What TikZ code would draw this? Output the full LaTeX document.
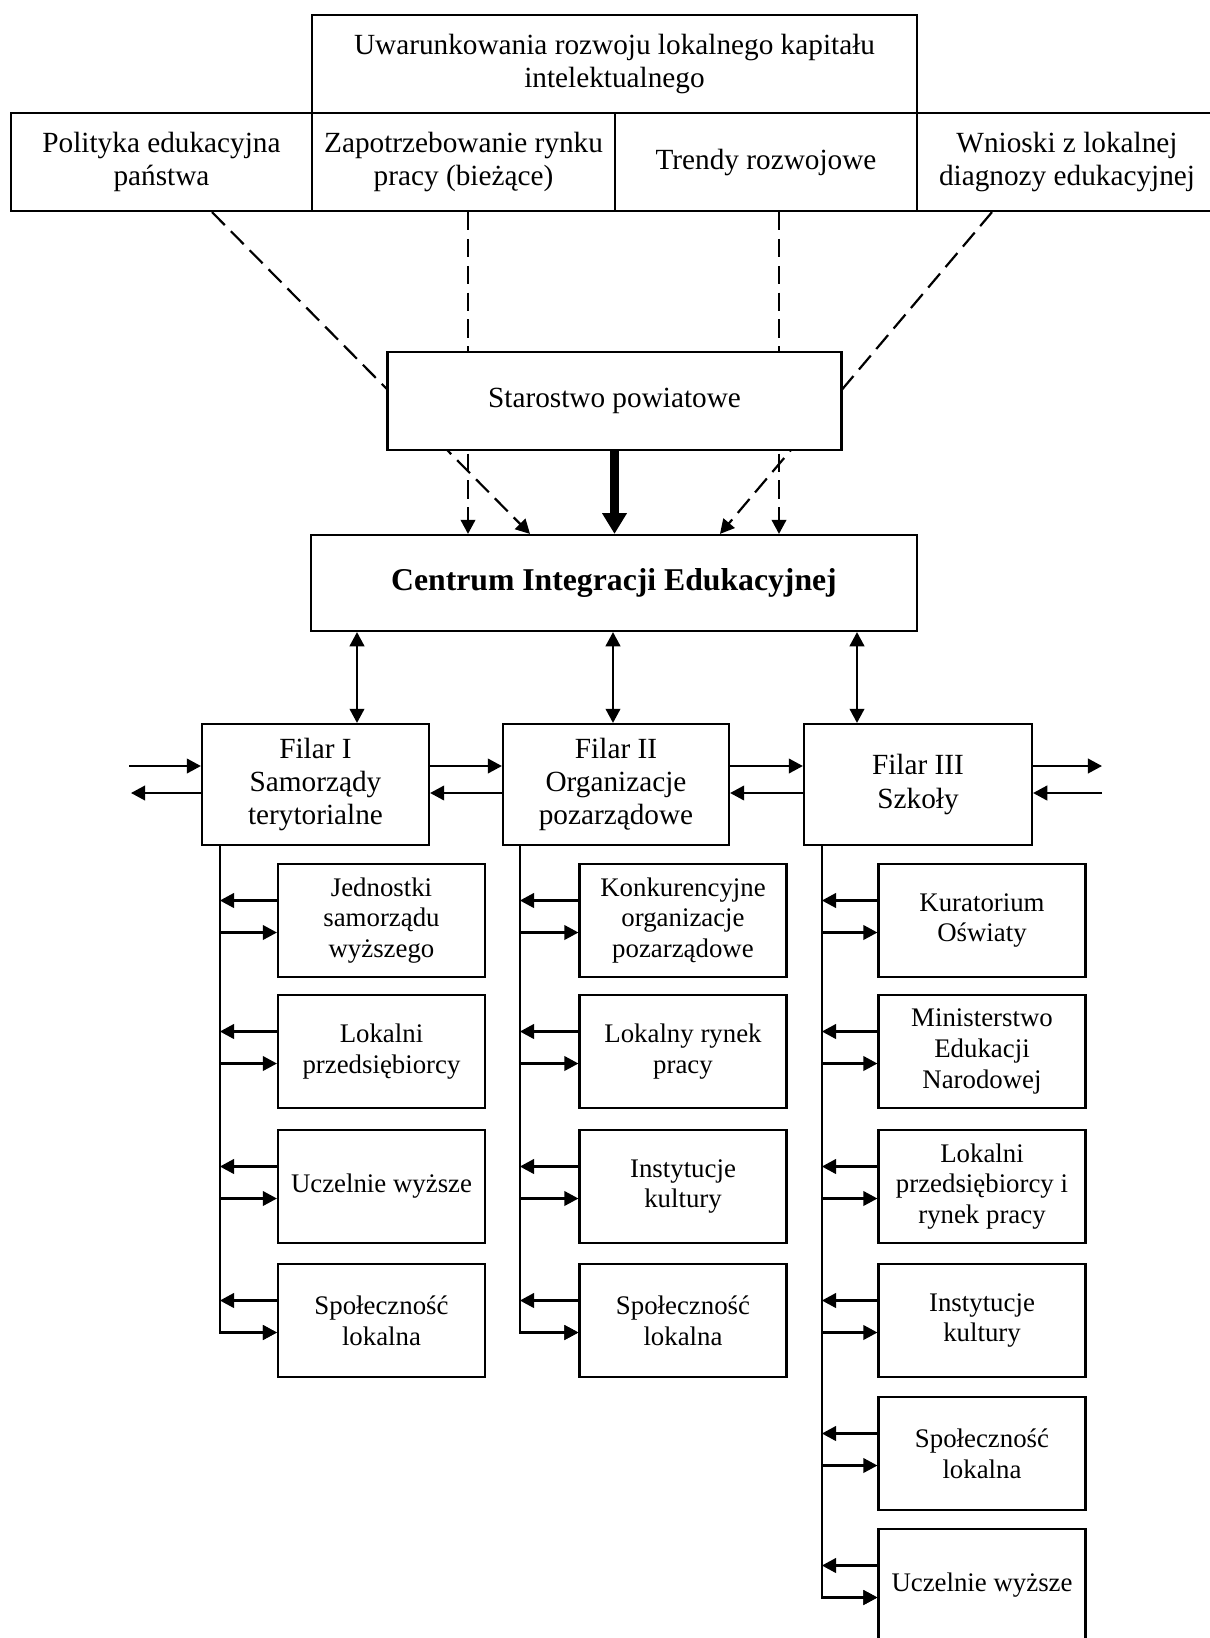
\documentclass[tikz,border=0pt]{standalone}
\usepackage{fontspec}
\setmainfont{Liberation Serif}
\usetikzlibrary{arrows.meta,backgrounds,calc}

\begin{document}
\begin{tikzpicture}[x=0.41pt,y=-0.41pt,
    box/.style 2 args={draw,line width=0.9pt,fill=white,inner sep=0pt,align=center,
      minimum width=#1*0.41pt,minimum height=#2*0.41pt,font=\fontsize{12}{13.7}\selectfont},
    sub/.style={box={207}{113},font=\fontsize{11}{12.6}\selectfont},
    link/.style={line width=0.9pt,-{Triangle[length=5.8pt,width=6pt]}},
    dbl/.style={line width=0.9pt,{Triangle[length=5.8pt,width=6pt]}-{Triangle[length=5.8pt,width=6pt]}},
    dlink/.style={link,dash pattern=on 7.5pt off 3.5pt}]
  \useasboundingbox (0,0) rectangle (1210,1638);

  % top row
  \node[box={605}{98}] (uwar) at (614.5,64) {Uwarunkowania rozwoju lokalnego kapitału\\intelektualnego};
  \node[box={301}{98}] (pol) at (161.5,162) {Polityka edukacyjna\\państwa};
  \node[box={303}{98}] (zap) at (463.5,162) {Zapotrzebowanie rynku\\pracy (bieżące)};
  \node[box={302}{98}] (tre) at (766,162) {Trendy rozwojowe};
  \node[box={300}{98}] (wni) at (1067,162) {Wnioski z lokalnej\\diagnozy edukacyjnej};

  \node[box={454}{98}] (sta) at (614.5,401) {Starostwo powiatowe};
  \node[box={606}{96},font=\fontsize{13}{15}\selectfont\bfseries] (cie) at (614,583) {Centrum Integracji Edukacyjnej};

  % pillars
  \node[box={227}{121}] (f1) at (315.5,784.5) {Filar I\\Samorządy\\terytorialne};
  \node[box={226}{121}] (f2) at (616,784.5) {Filar II\\Organizacje\\pozarządowe};
  \node[box={228}{121}] (f3) at (918,784.5) {Filar III\\Szkoły};

  \node[sub] (j1) at (381.5,920.5) {Jednostki\\samorządu\\wyższego};
  \node[sub] (j2) at (381.5,1051.5) {Lokalni\\przedsiębiorcy};
  \node[sub] (j3) at (381.5,1186.5) {Uczelnie wyższe};
  \node[sub] (j4) at (381.5,1320.5) {Społeczność\\lokalna};

  \node[sub] (k1) at (683,920.5) {Konkurencyjne\\organizacje\\pozarządowe};
  \node[sub] (k2) at (683,1051.5) {Lokalny rynek\\pracy};
  \node[sub] (k3) at (683,1186.5) {Instytucje\\kultury};
  \node[sub] (k4) at (683,1320.5) {Społeczność\\lokalna};

  \node[sub] (s1) at (982,920.5) {Kuratorium\\Oświaty};
  \node[sub] (s2) at (982,1051.5) {Ministerstwo\\Edukacji\\Narodowej};
  \node[sub] (s3) at (982,1186.5) {Lokalni\\przedsiębiorcy i\\rynek pracy};
  \node[sub] (s4) at (982,1320.5) {Instytucje\\kultury};
  \node[sub] (s5) at (982,1453.5) {Społeczność\\lokalna};
  \node[sub] (s6) at (982,1585.5) {Uczelnie wyższe};

  % dashed influences
  \coordinate (d1) at (212,0);
  \coordinate (e1) at (530,0);
  \coordinate (d2) at (468,0);
  \coordinate (d3) at (779,0);
  \coordinate (d4) at (992,0);
  \coordinate (e4) at (720,0);
  \begin{scope}[on background layer]
    \draw[dlink] (pol.south -| d1) -- (cie.north -| e1);
    \draw[dlink] (zap.south -| d2) -- (cie.north -| d2);
    \draw[dlink] (tre.south -| d3) -- (cie.north -| d3);
    \draw[dlink] (wni.south -| d4) -- (cie.north -| e4);
  \end{scope}
  \draw[line width=3.4pt,-{Triangle[length=8.5pt,width=9.6pt]}] (sta.south) -- (sta.south |- cie.north);

  % centre to pillars
  \coordinate (a1) at (357,0);
  \coordinate (a2) at (613,0);
  \coordinate (a3) at (857,0);
  \draw[dbl] (cie.south -| a1) -- (f1.north -| a1);
  \draw[dbl] (cie.south -| a2) -- (f2.north -| a2);
  \draw[dbl] (cie.south -| a3) -- (f3.north -| a3);

  % between pillars
  \coordinate (inL) at (129,766);
  \coordinate (outL) at (131,793);
  \coordinate (outR) at (1102,766);
  \coordinate (inR) at (1102,793);
  \draw[link] (inL) -- (inL -| f1.west);
  \draw[link] (outL -| f1.west) -- (outL);
  \draw[link] (inL -| f1.east) -- (inL -| f2.west);
  \draw[link] (outL -| f2.west) -- (outL -| f1.east);
  \draw[link] (inL -| f2.east) -- (inL -| f3.west);
  \draw[link] (outL -| f3.west) -- (outL -| f2.east);
  \draw[link] (outR -| f3.east) -- (outR);
  \draw[link] (inR) -- (inR -| f3.east);

  % trunks
  \coordinate (t1) at ($(f1.south west)+(19,0)$);
  \coordinate (t2) at ($(f2.south west)+(18,0)$);
  \coordinate (t3) at ($(f3.south west)+(19,0)$);
  \draw[link] (t1) |- ($(j4.west)+(0,12)$);
  \draw[link] (t2) |- ($(k4.west)+(0,12)$);
  \draw[link] (t3) |- ($(s6.west)+(0,12)$);
  \foreach \b in {j1,j2,j3,j4} {
    \draw[link] ($(\b.west)+(0,-20)$) -- ($(\b.west -| t1)+(0,-20)$);
    \draw[link] ($(\b.west -| t1)+(0,12)$) -- ($(\b.west)+(0,12)$);
  }
  \foreach \b in {k1,k2,k3,k4} {
    \draw[link] ($(\b.west)+(0,-20)$) -- ($(\b.west -| t2)+(0,-20)$);
    \draw[link] ($(\b.west -| t2)+(0,12)$) -- ($(\b.west)+(0,12)$);
  }
  \foreach \b in {s1,s2,s3,s4,s5,s6} {
    \draw[link] ($(\b.west)+(0,-20)$) -- ($(\b.west -| t3)+(0,-20)$);
    \draw[link] ($(\b.west -| t3)+(0,12)$) -- ($(\b.west)+(0,12)$);
  }
\end{tikzpicture}
\end{document}
